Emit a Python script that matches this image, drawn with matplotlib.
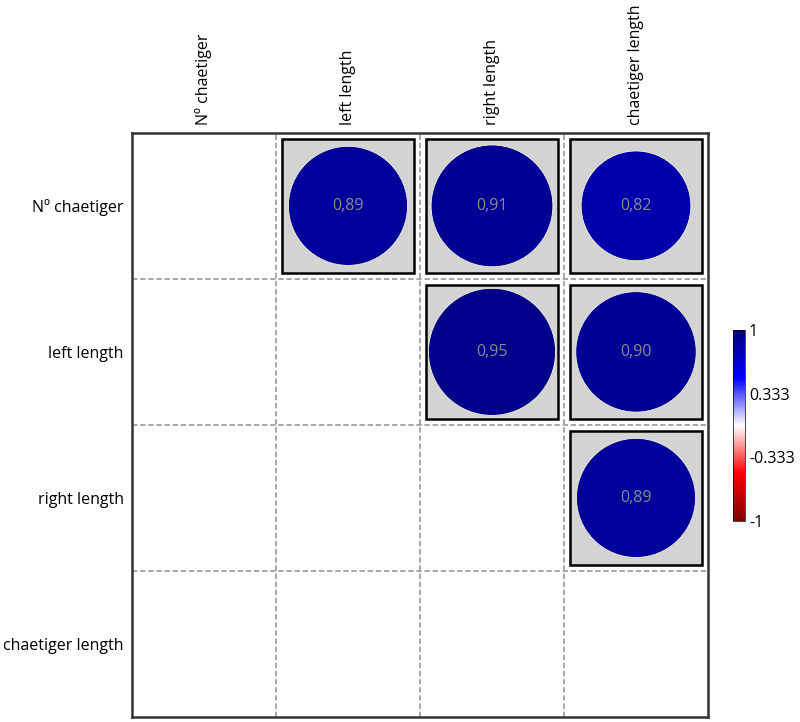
import matplotlib.pyplot as plt
import numpy as np
from matplotlib.colors import LinearSegmentedColormap, Normalize
from matplotlib.patches import Rectangle, Ellipse
from matplotlib.colorbar import ColorbarBase

variables = ["Nº chaetiger", "left length", "right length", "chaetiger length"]
# upper triangle correlations (row, col, r)
rows = [0, 0, 0, 1, 1, 2]
cols = [1, 2, 3, 2, 3, 3]
corr = [0.89, 0.91, 0.82, 0.95, 0.90, 0.89]
cbar_ticks = [1, 0.333, -0.333, -1]

plt.rcParams['font.family'] = ['Open Sans', 'DejaVu Sans']

cmap = LinearSegmentedColormap.from_list(
    "rwb", ["#7f0000", "#ff0000", "#ffffff", "#0000ff", "#00007f"])
norm = Normalize(-1, 1)

fig = plt.figure(figsize=(8, 7.22), dpi=100)
ax = fig.add_axes([0.165, 0.007, 0.72, 0.809])

n = len(variables)
ax.set_xlim(0, n)
ax.set_ylim(n, 0)

for k in range(1, n):
    ax.axvline(k, color="#a0a0a0", ls=(0, (3, 1.5)), lw=1.3)
    ax.axhline(k, color="#a0a0a0", ls=(0, (3, 1.5)), lw=1.3)

side = 0.92
pad = (1 - side) / 2
# pixel aspect correction (cell width / cell height)
asp = (0.72 * 800) / (0.809 * 722)
for i, j, r in zip(rows, cols, corr):
    ax.add_patch(Rectangle((j + pad, i + pad), side, side,
                           facecolor="#d3d3d3", edgecolor="black", lw=1.8))
    d = side * abs(r) * 1.01
    ax.add_patch(Ellipse((j + 0.5, i + 0.5), d, d * asp,
                         facecolor=cmap(norm(r)), edgecolor="#f4f0d8", lw=0.6))
    ax.text(j + 0.5, i + 0.5, ("%.2f" % r).replace(".", ","),
            ha="center", va="center", color="#8a8a8a", fontsize=11.5)

ax.set_xticks(np.arange(n) + 0.5)
ax.set_yticks(np.arange(n) + 0.5)
ax.set_xticklabels(variables, rotation=90, fontsize=11.5)
ax.set_yticklabels(variables, fontsize=11.5)
ax.xaxis.tick_top()
ax.tick_params(length=0, pad=6)
for s in ax.spines.values():
    s.set_linewidth(1.8)
    s.set_color("#333333")

cax = fig.add_axes([0.916, 0.278, 0.015, 0.265])
cb = ColorbarBase(cax, cmap=cmap, norm=norm, ticks=cbar_ticks)
cb.ax.set_yticklabels(["1", "0.333", "-0.333", "-1"], fontsize=11.5)
cb.ax.tick_params(length=0, pad=3)
cb.outline.set_linewidth(0.5)

fig.savefig("out.png", dpi=100)
